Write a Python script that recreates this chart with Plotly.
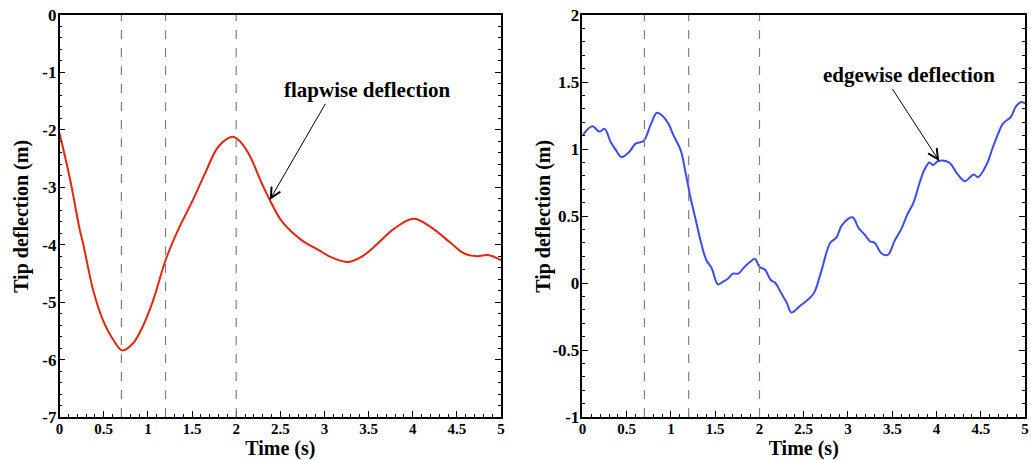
import plotly.graph_objects as go
from plotly.subplots import make_subplots

# Flapwise tip deflection (m) vs time (s)
flap_t = [0.0, 0.12, 0.23, 0.27, 0.38, 0.49, 0.61, 0.71, 0.83, 0.94, 1.06, 1.2, 1.34,
          1.51, 1.65, 1.8, 1.96, 2.03, 2.14, 2.29, 2.38, 2.52, 2.74, 2.93, 3.08, 3.27,
          3.42, 3.56, 3.79, 4.01, 4.2, 4.43, 4.58, 4.73, 4.85, 5.0]
flap_v = [-2.06, -2.87, -3.75, -4.0, -4.79, -5.31, -5.66, -5.84, -5.72, -5.43, -4.97, -4.27, -3.75,
          -3.22, -2.75, -2.29, -2.12, -2.18, -2.41, -2.93, -3.22, -3.6, -3.92, -4.09, -4.22, -4.3,
          -4.21, -4.04, -3.72, -3.55, -3.69, -3.97, -4.15, -4.2, -4.18, -4.27]

# Edgewise tip deflection (m) vs time (s)
edge_t = [0.0, 0.11, 0.19, 0.25, 0.32, 0.38, 0.44, 0.53, 0.6, 0.69, 0.77, 0.84, 0.9, 0.97,
          1.03, 1.11, 1.16, 1.22, 1.28, 1.34, 1.4, 1.46, 1.53, 1.59, 1.64, 1.7, 1.76, 1.83,
          1.9, 1.95, 2.0, 2.06, 2.13, 2.18, 2.24, 2.31, 2.36, 2.46, 2.61, 2.69, 2.8, 2.87,
          2.93, 3.05, 3.12, 3.19, 3.25, 3.3, 3.38, 3.45, 3.53, 3.6, 3.67, 3.74, 3.81, 3.86,
          3.92, 3.96, 4.02, 4.14, 4.24, 4.32, 4.42, 4.47, 4.57, 4.63, 4.7, 4.75, 4.84, 4.9,
          4.96, 5.0]
edge_v = [1.10, 1.17, 1.13, 1.15, 1.05, 0.99, 0.94, 0.98, 1.04, 1.06, 1.18, 1.27, 1.25, 1.19,
          1.10, 0.99, 0.84, 0.64, 0.47, 0.30, 0.17, 0.11, -0.01, 0.01, 0.03, 0.07, 0.07, 0.12,
          0.16, 0.18, 0.12, 0.10, 0.02, 0.0, -0.07, -0.15, -0.22, -0.17, -0.08, 0.07, 0.30, 0.34,
          0.43, 0.49, 0.41, 0.36, 0.31, 0.30, 0.22, 0.21, 0.32, 0.40, 0.51, 0.60, 0.75, 0.84,
          0.90, 0.88, 0.91, 0.90, 0.81, 0.76, 0.81, 0.79, 0.89, 1.00, 1.12, 1.19, 1.24, 1.32,
          1.35, 1.34]

event_times = [0.7, 1.2, 2.0]

x_ticks = [0, 0.5, 1, 1.5, 2, 2.5, 3, 3.5, 4, 4.5, 5]
x_tick_text = ["0", "0.5", "1", "1.5", "2", "2.5", "3", "3.5", "4", "4.5", "5"]
flap_ticks = [0, -1, -2, -3, -4, -5, -6, -7]
flap_tick_text = ["0", "-1", "-2", "-3", "-4", "-5", "-6", "-7"]
edge_ticks = [2, 1.5, 1, 0.5, 0, -0.5, -1]
edge_tick_text = ["2", "1.5", "1", "0.5", "0", "-0.5", "-1"]

x_title = "Time (s)"
y_title = "Tip deflection (m)"
flap_label = "flapwise deflection"
edge_label = "edgewise deflection"

FONT = "Liberation Serif, Times New Roman, DejaVu Serif, serif"
W, H = 1031, 460

fig = make_subplots(rows=1, cols=2)

fig.add_trace(go.Scatter(x=flap_t, y=flap_v, mode="lines",
                         line=dict(color="#e3260c", width=2), line_shape="spline",
                         showlegend=False), row=1, col=1)
fig.add_trace(go.Scatter(x=edge_t, y=edge_v, mode="lines",
                         line=dict(color="#3a4bf2", width=2), line_shape="spline",
                         showlegend=False), row=1, col=2)

for xr in ["x", "x2"]:
    for t in event_times:
        fig.add_shape(type="line", xref=xr, yref=("y domain" if xr == "x" else "y2 domain"),
                      x0=t, x1=t, y0=0, y1=1,
                      line=dict(color="#808080", width=1.2, dash="dash"))

xtickfont = dict(family=FONT, size=15, color="black", weight="bold")
ytickfont = dict(family=FONT, size=17, color="black", weight="bold")
titlefont = dict(family=FONT, size=20, color="black", weight="bold")
minor_common = dict(ticklen=3, ticks="inside", tickcolor="black")

axis_common = dict(showline=True, linecolor="black", linewidth=1.5, ticks="inside",
                   ticklen=6, tickwidth=1, tickcolor="black", showgrid=False, zeroline=False)

fig.update_xaxes(**axis_common, range=[0, 5], mirror=True, tickfont=xtickfont,
                 tickmode="array", tickvals=x_ticks, ticktext=x_tick_text,
                 ticklabelstandoff=-3,
                 minor=dict(dtick=0.1, **minor_common),
                 title=dict(text=x_title, font=titlefont, standoff=2))
fig.update_yaxes(**axis_common, mirror="ticks", tickfont=ytickfont, ticklabelstandoff=-2)
fig.update_yaxes(range=[-7, 0], tickmode="array", tickvals=flap_ticks, ticktext=flap_tick_text,
                 minor=dict(dtick=0.2, **minor_common), row=1, col=1)
fig.update_yaxes(range=[-1, 2], tickmode="array", tickvals=edge_ticks, ticktext=edge_tick_text,
                 minor=dict(dtick=0.1, **minor_common), row=1, col=2)

fig.update_xaxes(domain=[56 / W, 501 / W], row=1, col=1)
fig.update_xaxes(domain=[583 / W, 1029 / W], row=1, col=2)

# y-axis titles
for px in [17, 543]:
    fig.add_annotation(x=px / W, y=0.5, xref="paper", yref="paper", xanchor="center", yanchor="middle",
                       textangle=-90, showarrow=False, text=y_title, font=titlefont)

fig.add_annotation(x=2.38, y=-3.22, ax=3.02, ay=-1.52, xref="x", yref="y", axref="x", ayref="y",
                   showarrow=True, arrowhead=5, arrowsize=2, arrowwidth=1, arrowcolor="black", text="")
fig.add_annotation(x=3.49, y=-1.31, xref="x", yref="y", showarrow=False,
                   text=flap_label, font=dict(family=FONT, size=21, color="black", weight="bold"))
fig.add_annotation(x=4.03, y=0.91, ax=3.49, ay=1.46, xref="x2", yref="y2", axref="x2", ayref="y2",
                   showarrow=True, arrowhead=5, arrowsize=2, arrowwidth=1, arrowcolor="black", text="")
fig.add_annotation(x=3.69, y=1.55, xref="x2", yref="y2", showarrow=False,
                   text=edge_label, font=dict(family=FONT, size=21, color="black", weight="bold"))

fig.update_layout(width=W, height=H, margin=dict(l=0, r=1, t=15, b=43),
                  plot_bgcolor="white", paper_bgcolor="white",
                  font=dict(family=FONT, color="black"))

fig.write_html("out.html", config={"displayModeBar": False},
               post_script="document.body.style.margin='0';document.body.style.padding='0';")
